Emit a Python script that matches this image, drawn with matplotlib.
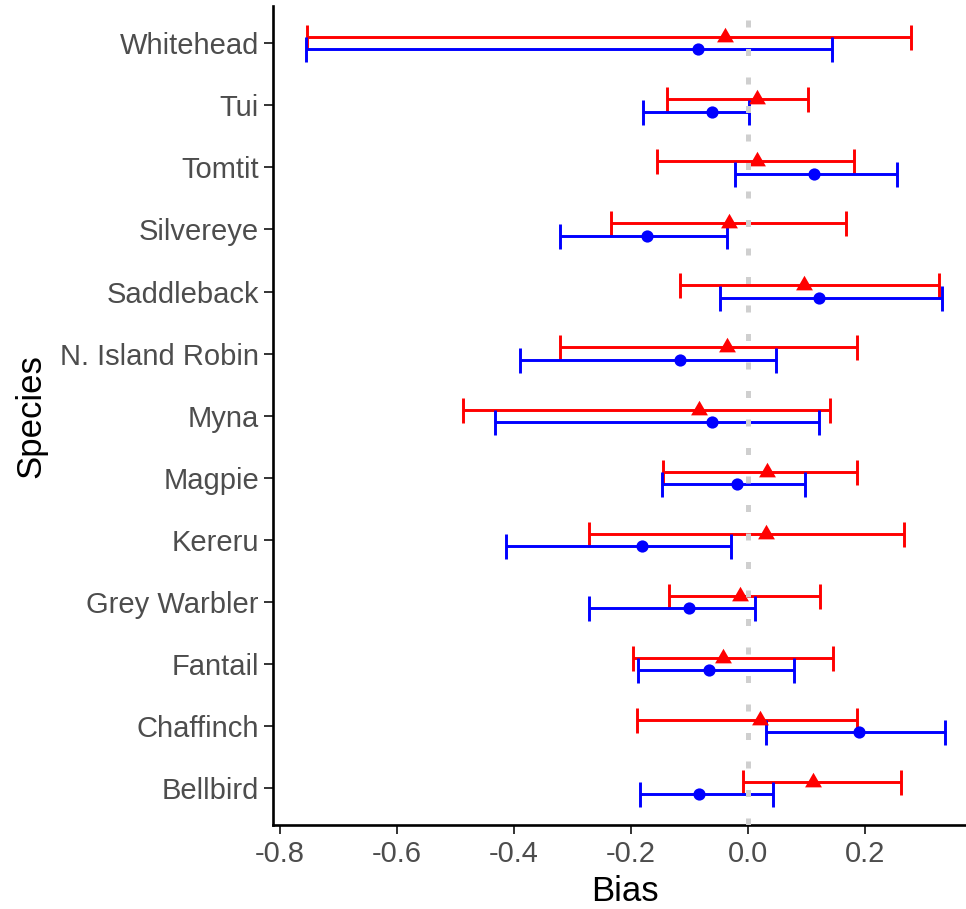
import numpy as np
import matplotlib.pyplot as plt
from matplotlib.path import Path

plt.rcParams["font.family"] = ["Liberation Sans", "DejaVu Sans"]

species = ["Bellbird", "Chaffinch", "Fantail", "Grey Warbler", "Kereru", "Magpie",
           "Myna", "N. Island Robin", "Saddleback", "Silvereye", "Tomtit", "Tui",
           "Whitehead"]

# red series (triangles): estimate with lower / upper bounds
red_est = [0.112, 0.021, -0.043, -0.013, 0.031, 0.032,
           -0.083, -0.036, 0.095, -0.033, 0.015, 0.016, -0.039]
red_lo = [-0.008, -0.189, -0.196, -0.135, -0.271, -0.145,
          -0.487, -0.321, -0.116, -0.234, -0.155, -0.138, -0.754]
red_hi = [0.261, 0.186, 0.145, 0.123, 0.267, 0.186,
          0.140, 0.186, 0.326, 0.167, 0.182, 0.102, 0.278]

# blue series (circles)
blue_est = [-0.083, 0.190, -0.066, -0.100, -0.181, -0.018,
            -0.062, -0.116, 0.122, -0.172, 0.113, -0.062, -0.086]
blue_lo = [-0.184, 0.030, -0.188, -0.271, -0.414, -0.147,
           -0.432, -0.389, -0.048, -0.322, -0.022, -0.180, -0.756]
blue_hi = [0.043, 0.336, 0.078, 0.012, -0.029, 0.098,
           0.122, 0.048, 0.332, -0.035, 0.254, 0.002, 0.144]

fig = plt.figure(figsize=(9.66, 9.09), dpi=100)
ax = fig.add_axes([0.2831, 0.0919, 0.728, 0.9015])

pos = np.arange(1, len(species) + 1)
dodge = 0.1

# equilateral triangle centred on its centroid
tri = Path([(0, 0.577), (-0.5, -0.289), (0.5, -0.289), (0, 0.577)],
           [Path.MOVETO, Path.LINETO, Path.LINETO, Path.CLOSEPOLY])


def draw_series(est, lo, hi, y, color, marker, ms):
    est = np.array(est)
    err = [est - np.array(lo), np.array(hi) - est]
    # capsize is the half-length of the cap in points
    ax.errorbar(est, y, xerr=err, fmt="none", ecolor=color, elinewidth=2.1,
                capsize=9, capthick=2.1, zorder=2)
    ax.plot(est, y, linestyle="none", marker=marker, markersize=ms,
            color=color, markeredgewidth=0, zorder=3)


draw_series(red_est, red_lo, red_hi, pos + dodge, "#FF0000", tri, 14)
draw_series(blue_est, blue_lo, blue_hi, pos - dodge, "#0000FF", "o", 8.8)

ax.axvline(0, color="#cfcfcf", linewidth=3.6, linestyle=(0, (1.4, 4.3)), zorder=4)

ax.set_xlim(-0.811, 0.391)
ax.set_ylim(0.4, len(species) + 0.6)
ax.set_yticks(pos)
ax.set_yticklabels(species)
ax.set_xticks([-0.8, -0.6, -0.4, -0.2, 0.0, 0.2])
ax.set_xticklabels(["-0.8", "-0.6", "-0.4", "-0.2", "0.0", "0.2"])

for side in ["top", "right"]:
    ax.spines[side].set_visible(False)
for side in ["left", "bottom"]:
    ax.spines[side].set_linewidth(1.9)
    ax.spines[side].set_color("black")

ax.tick_params(axis="both", labelsize=21, labelcolor="#4d4d4d", color="#333333",
               length=6.5, width=1.4, pad=4)

ax.set_xlabel("Bias", fontsize=25, labelpad=5)
ax.set_ylabel("Species", fontsize=25, labelpad=9)

fig.savefig("out.png", dpi=100)
